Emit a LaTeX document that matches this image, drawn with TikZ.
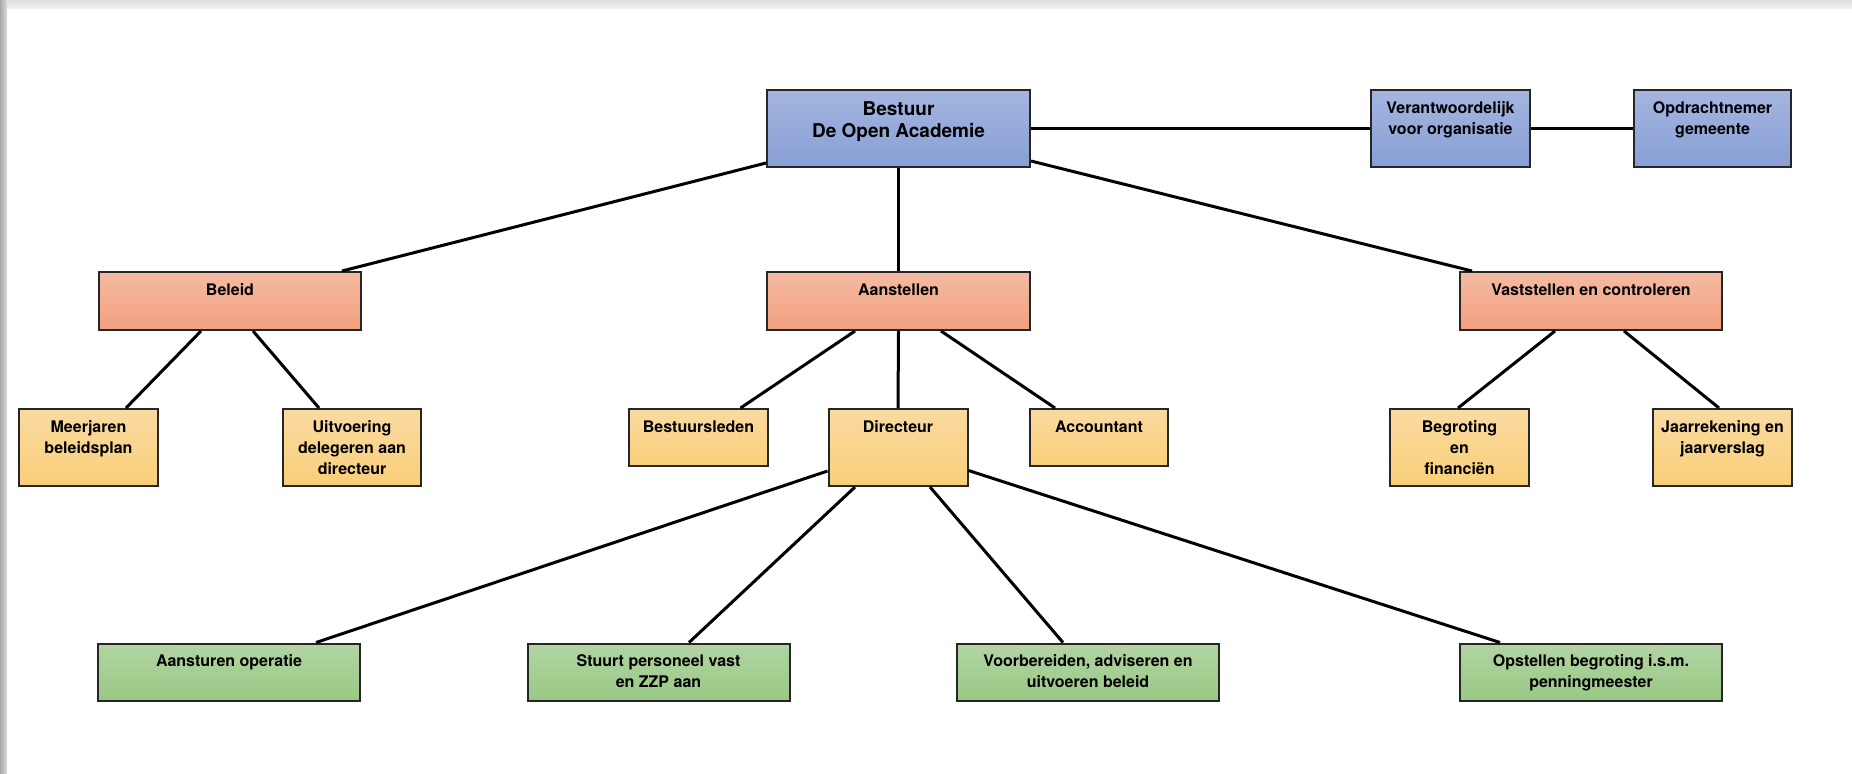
\documentclass[tikz,border=0pt]{standalone}
\usepackage{fontspec}
\setmainfont{TeX Gyre Heros}
\usetikzlibrary{calc}
\definecolor{boxline}{HTML}{262626}
\definecolor{blueT}{HTML}{A4B5DF}
\definecolor{blueB}{HTML}{889FD6}
\definecolor{salT}{HTML}{F4BBA2}
\definecolor{salB}{HTML}{F29F7F}
\definecolor{yelT}{HTML}{FADAA2}
\definecolor{yelB}{HTML}{F9CF78}
\definecolor{grnT}{HTML}{B2D4A3}
\definecolor{grnB}{HTML}{99C984}
\begin{document}
\begin{tikzpicture}[x=0.5pt,y=-0.5pt,
  box/.style={draw=boxline, line width=1pt, inner sep=0pt, rectangle},
  sz/.style 2 args={minimum width=#1*0.5pt, minimum height=#2*0.5pt},
  bluebox/.style={box, top color=blueT, bottom color=blueB},
  salbox/.style={box, top color=salT, bottom color=salB},
  yelbox/.style={box, top color=yelT, bottom color=yelB},
  grnbox/.style={box, top color=grnT, bottom color=grnB},
  txt/.style={font=\bfseries\fontsize{8}{10.5}\selectfont, align=center, inner sep=0pt, anchor=north},
  bigtxt/.style={txt, font=\bfseries\fontsize{9.5}{11.35}\selectfont},
  conn/.style={line width=1.5pt, black},
]
\useasboundingbox (0,0) rectangle (1852,773);
\fill[white] (0,0) rectangle (1852,773);
\shade[top color=gray!24, bottom color=gray!12] (0,0) rectangle (1852,8);
\shade[left color=gray!68, right color=gray!28] (0,0) rectangle (7,773);

% top row
\node[bluebox, sz={263}{77}] (bestuur) at (898.5,128.5) {};
\node[bluebox, sz={159}{77}] (verant) at (1450.5,128.5) {};
\node[bluebox, sz={157}{77}] (opdracht) at (1712.5,128.5) {};
% second row
\node[salbox, sz={262}{58}] (beleid) at (230,301) {};
\node[salbox, sz={263}{58}] (aanstellen) at (898.5,301) {};
\node[salbox, sz={262}{58}] (vaststellen) at (1591,301) {};
% third row
\node[yelbox, sz={139}{77}] (meerjaren) at (88.5,447.5) {};
\node[yelbox, sz={138}{77}] (uitvoering) at (352,447.5) {};
\node[yelbox, sz={139}{57}] (bestuursleden) at (698.5,437.5) {};
\node[yelbox, sz={139}{77}] (directeur) at (898,447.5) {};
\node[yelbox, sz={138}{57}] (accountant) at (1099,437.5) {};
\node[yelbox, sz={139}{77}] (begroting) at (1459.5,447.5) {};
\node[yelbox, sz={139}{77}] (jaarrekening) at (1722.5,447.5) {};
% fourth row
\node[grnbox, sz={262}{57}] (aansturen) at (229,672) {};
\node[grnbox, sz={262}{57}] (stuurt) at (658.5,672) {};
\node[grnbox, sz={262}{57}] (voorbereiden) at (1088,672) {};
\node[grnbox, sz={262}{57}] (opstellen) at (1591,672) {};

% texts
\node[bigtxt] (t-bestuur) at ($(bestuur.north)+(0,12)$) {Bestuur\\De Open Academie};
\node[txt] (t-verant) at ($(verant.north)+(0,12)$) {Verantwoordelijk\\voor organisatie};
\node[txt] (t-opdracht) at ($(opdracht.north)+(0,12)$) {Opdrachtnemer\\gemeente};
\node[txt] (t-beleid) at ($(beleid.north)+(0,12)$) {Beleid};
\node[txt] (t-aanstellen) at ($(aanstellen.north)+(0,12)$) {Aanstellen};
\node[txt] (t-vaststellen) at ($(vaststellen.north)+(0,12)$) {Vaststellen en controleren};
\node[txt] (t-meerjaren) at ($(meerjaren.north)+(0,12)$) {Meerjaren\\beleidsplan};
\node[txt] (t-uitvoering) at ($(uitvoering.north)+(0,12)$) {Uitvoering\\delegeren aan\\directeur};
\node[txt] (t-bestuursleden) at ($(bestuursleden.north)+(0,12)$) {Bestuursleden};
\node[txt] (t-directeur) at ($(directeur.north)+(0,12)$) {Directeur};
\node[txt] (t-accountant) at ($(accountant.north)+(0,12)$) {Accountant};
\node[txt] (t-begroting) at ($(begroting.north)+(0,12)$) {Begroting\\en\\financiën};
\node[txt] (t-jaarrekening) at ($(jaarrekening.north)+(0,12)$) {Jaarrekening en\\jaarverslag};
\node[txt] (t-aansturen) at ($(aansturen.north)+(0,12)$) {Aansturen operatie};
\node[txt] (t-stuurt) at ($(stuurt.north)+(0,12)$) {Stuurt personeel vast\\en ZZP aan};
\node[txt] (t-voorbereiden) at ($(voorbereiden.north)+(0,12)$) {Voorbereiden, adviseren en\\uitvoeren beleid};
\node[txt] (t-opstellen) at ($(opstellen.north)+(0,12)$) {Opstellen begroting i.s.m.\\penningmeester};

% connectors
\draw[conn] ($(bestuur.south west)+(0,-5)$) -- ($(beleid.north west)+(244,0)$);
\draw[conn] (bestuur.south) -- (aanstellen.north);
\draw[conn] ($(bestuur.south east)+(0,-7)$) -- ($(vaststellen.north west)+(13,0)$);
\draw[conn] (bestuur.east) -- (verant.west);
\draw[conn] (verant.east) -- (opdracht.west);
\draw[conn] ($(beleid.south west)+(103,0)$) -- ($(meerjaren.north west)+(108,0)$);
\draw[conn] ($(beleid.south west)+(155,0)$) -- ($(uitvoering.north west)+(37,0)$);
\draw[conn] ($(aanstellen.south west)+(89,0)$) -- ($(bestuursleden.north west)+(112.5,0)$);
\draw[conn] (aanstellen.south) -- (directeur.north);
\draw[conn] ($(aanstellen.south west)+(175,0)$) -- ($(accountant.north west)+(26,0)$);
\draw[conn] ($(vaststellen.south west)+(96,0)$) -- ($(begroting.north west)+(69,0)$);
\draw[conn] ($(vaststellen.south west)+(165,0)$) -- ($(jaarrekening.north west)+(67,0)$);
\draw[conn] ($(directeur.south west)+(0,-16)$) -- ($(aansturen.north west)+(219,0)$);
\draw[conn] ($(directeur.south west)+(27.5,0)$) -- ($(stuurt.north west)+(162.5,0)$);
\draw[conn] ($(directeur.south west)+(102.5,0)$) -- ($(voorbereiden.north west)+(107,0)$);
\draw[conn] ($(directeur.south east)+(0,-16.5)$) -- ($(opstellen.north west)+(41,0)$);
\end{tikzpicture}
\end{document}
